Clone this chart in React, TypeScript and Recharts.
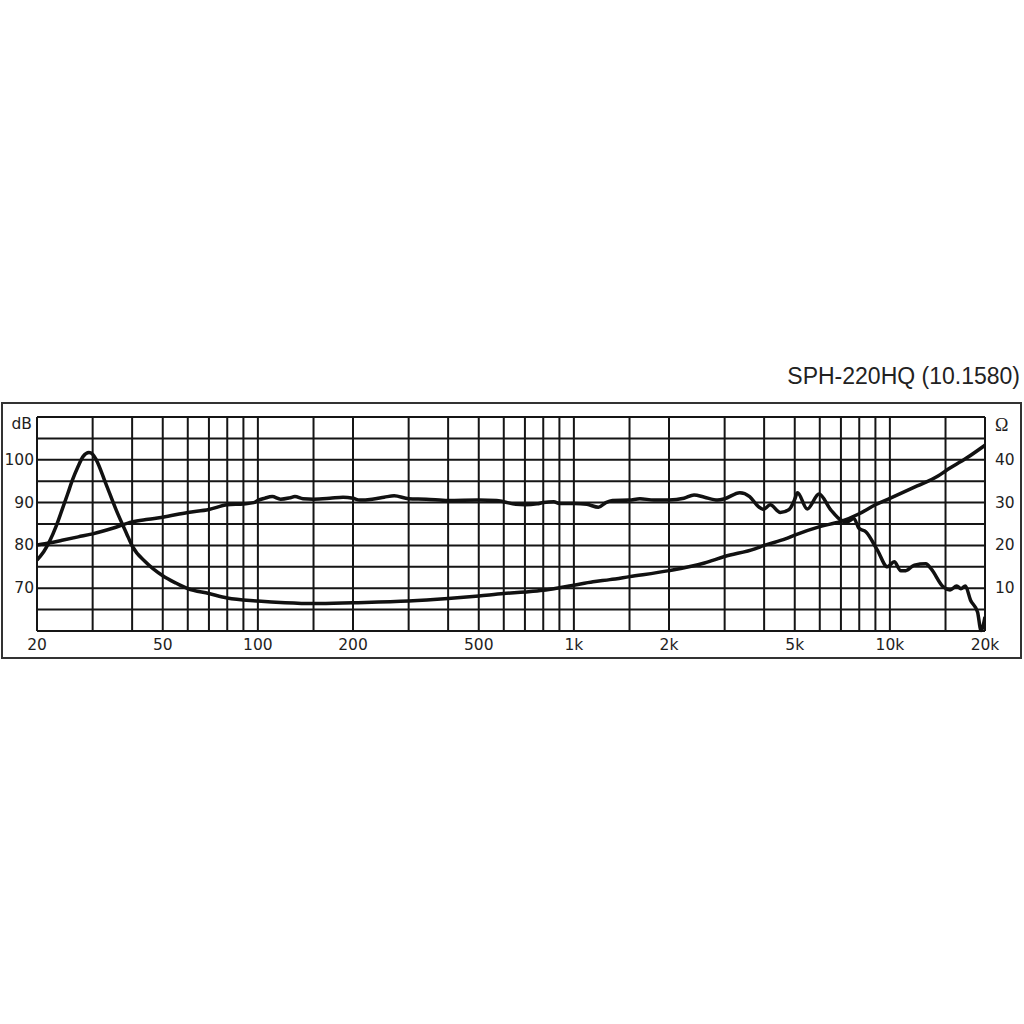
import React from 'react';
import { LineChart, Line, XAxis, YAxis, CartesianGrid } from 'recharts';

// SPL response (dB)
const splFreq = [
  20, 22, 24, 27, 30, 34.7, 40, 45, 50, 60, 70, 80, 90, 97, 100, 105, 111, 118, 126, 131, 139, 150, 169, 186,
  200, 210, 230, 251, 270, 300, 341, 400, 500, 569, 600, 655, 700, 764, 800, 864, 900, 1000, 1100, 1196, 1262,
  1324, 1500, 1618, 1790, 2000, 2230, 2400, 2590, 2850, 3000, 3350, 3600, 3830, 3980, 4180, 4500, 4800, 4990,
  5100, 5477, 5966, 6500, 7000, 7340, 7690, 7980, 8390, 9130, 9820, 10320, 10830, 11230, 11950, 13000, 13510,
  14760, 15500, 16280, 16780, 17330, 18000, 18950, 19430, 20000,
];
const splDb = [
  80.1, 80.6, 81.2, 82.0, 82.7, 84.0, 85.5, 86.1, 86.6, 87.7, 88.4, 89.5, 89.7, 90.0, 90.5, 91.0, 91.4, 90.8,
  91.1, 91.4, 90.9, 90.8, 91.0, 91.25, 91.0, 90.6, 90.8, 91.25, 91.6, 90.9, 90.8, 90.5, 90.6, 90.5, 90.2, 89.6,
  89.5, 89.7, 90.0, 90.2, 89.8, 89.8, 89.6, 88.9, 90.0, 90.5, 90.6, 90.9, 90.6, 90.6, 91.0, 91.8, 91.25, 90.6,
  90.9, 92.3, 91.4, 89.1, 88.4, 89.5, 87.7, 88.4, 90.6, 92.3, 88.5, 92.0, 88.3, 85.9, 85.5, 86.3, 84.0, 83.2,
  78.9, 75.0, 76.2, 74.1, 74.1, 75.4, 75.7, 74.5, 70.3, 69.6, 70.5, 69.9, 70.5, 67.2, 64.4, 60.1, 63.3,
];

// impedance (ohm)
const impFreq = [
  20, 21, 21.9, 23, 24, 25, 25.9, 27, 28, 29.2, 30, 30.8, 33, 35.6, 38.4, 40, 44.3, 50, 55, 60, 70, 80, 100,
  122, 150, 200, 300, 400, 500, 600, 700, 800, 900, 1000, 1150, 1300, 1500, 2000, 2590, 3000, 3740, 4000, 4670,
  5000, 6000, 7000, 8000, 9000, 10000, 12200, 14200, 15000, 17480, 20000,
];
const impOhm = [
  16.6, 18.5, 20.9, 24.5, 28.3, 32.0, 35.3, 38.5, 40.8, 41.7, 41.3, 40.0, 34.5, 28.3, 22.8, 19.9, 16.0, 12.9,
  11.2, 9.9, 8.75, 7.7, 7.0, 6.6, 6.4, 6.6, 7.0, 7.6, 8.2, 8.75, 9.1, 9.5, 10.1, 10.7, 11.5, 12.0, 12.7, 14.1,
  15.9, 17.4, 19.2, 20.0, 21.5, 22.4, 24.4, 25.6, 27.4, 29.5, 31.0, 33.9, 36.2, 37.4, 40.4, 43.4,
];

const gridFreqs = [
  20, 30, 40, 50, 60, 70, 80, 90, 100, 150, 200, 300, 400, 500, 600, 700, 800, 900, 1000, 1500, 2000, 3000,
  4000, 5000, 6000, 7000, 8000, 9000, 10000, 15000, 20000,
];
const freqLabels: Record<number, string> = {
  20: '20', 50: '50', 100: '100', 200: '200', 500: '500', 1000: '1k', 2000: '2k', 5000: '5k', 10000: '10k', 20000: '20k',
};
const dbTicks = [60, 65, 70, 75, 80, 85, 90, 95, 100, 105, 110];
const dbLabels: Record<number, string> = { 70: '70', 80: '80', 90: '90', 100: '100', 110: 'dB' };
const ohmTicks = [0, 5, 10, 15, 20, 25, 30, 35, 40, 45, 50];
const ohmLabels: Record<number, string> = { 10: '10', 20: '20', 30: '30', 40: '40', 50: 'Ω' };

const splData = splFreq.map((f, i) => ({ f, v: splDb[i] }));
const impData = impFreq.map((f, i) => ({ f, v: impOhm[i] }));

const labelFont = '"DejaVu Sans", Verdana, sans-serif';

const FreqTick = (props: any) => {
  const { x, y, payload } = props;
  const t = freqLabels[payload.value];
  if (!t) return <g />;
  return (
    <text x={x} y={y + 14} textAnchor="middle" dominantBaseline="central" fontFamily={labelFont} fontSize={15.5} fill="#1e1e1e">
      {t}
    </text>
  );
};

const DbTick = (props: any) => {
  const { x, y, payload } = props;
  const t = dbLabels[payload.value];
  if (!t) return <g />;
  const isUnit = payload.value === 110;
  return (
    <text x={isUnit ? x - 2 : x} y={isUnit ? y + 7 : y} textAnchor="end" dominantBaseline="central" fontFamily={labelFont} fontSize={15.5} fill="#1e1e1e">
      {t}
    </text>
  );
};

const OhmTick = (props: any) => {
  const { x, y, payload } = props;
  const t = ohmLabels[payload.value];
  if (!t) return <g />;
  const isUnit = payload.value === 50;
  return (
    <text
      x={x}
      y={isUnit ? y + 8 : y}
      textAnchor="start"
      dominantBaseline="central"
      fontFamily={isUnit ? '"Liberation Serif", serif' : labelFont}
      fontSize={isUnit ? 18 : 15.5}
      fill="#1e1e1e"
    >
      {t}
    </text>
  );
};

export default function App() {
  return (
    <div style={{ position: 'absolute', left: 0, top: 0, width: 1024, height: 1024, background: '#fff' }}>
      <div
        style={{
          position: 'absolute', right: 4, top: 362, fontFamily: '"Liberation Sans", Arial, sans-serif',
          fontSize: 23, color: '#222', lineHeight: '28px', whiteSpace: 'nowrap',
        }}
      >
        SPH-220HQ (10.1580)
      </div>
      <div
        style={{
          position: 'absolute', left: 1, top: 402, width: 1021, height: 257, border: '2px solid #333', boxSizing: 'border-box',
        }}
      />
      <div style={{ position: 'absolute', left: 0, top: 0 }}>
        <LineChart width={1024} height={700} margin={{ top: 417, right: 0, bottom: 39, left: 0 }}>
          <CartesianGrid yAxisId="db" stroke="#151515" strokeWidth={2} fill="none" />
          <XAxis
            dataKey="f"
            type="number"
            scale="log"
            domain={[20, 20000]}
            ticks={gridFreqs}
            interval={0}
            allowDataOverflow
            axisLine={false}
            tickLine={false}
            tickSize={0}
            tickMargin={0}
            height={30}
            tick={<FreqTick />}
          />
          <YAxis
            yAxisId="db"
            orientation="left"
            type="number"
            domain={[60, 110]}
            ticks={dbTicks}
            interval={0}
            axisLine={false}
            tickLine={false}
            tickSize={0}
            tickMargin={3}
            width={37}
            tick={<DbTick />}
          />
          <YAxis
            yAxisId="ohm"
            orientation="right"
            type="number"
            domain={[0, 50]}
            ticks={ohmTicks}
            interval={0}
            axisLine={false}
            tickLine={false}
            tickSize={0}
            tickMargin={10}
            width={39}
            tick={<OhmTick />}
          />
          <Line
            yAxisId="db"
            data={splData}
            dataKey="v"
            type="monotone"
            stroke="#111"
            strokeWidth={3.5}
            dot={false}
            isAnimationActive={false}
          />
          <Line
            yAxisId="ohm"
            data={impData}
            dataKey="v"
            type="monotone"
            stroke="#111"
            strokeWidth={3.5}
            dot={false}
            isAnimationActive={false}
          />
        </LineChart>
      </div>
    </div>
  );
}
